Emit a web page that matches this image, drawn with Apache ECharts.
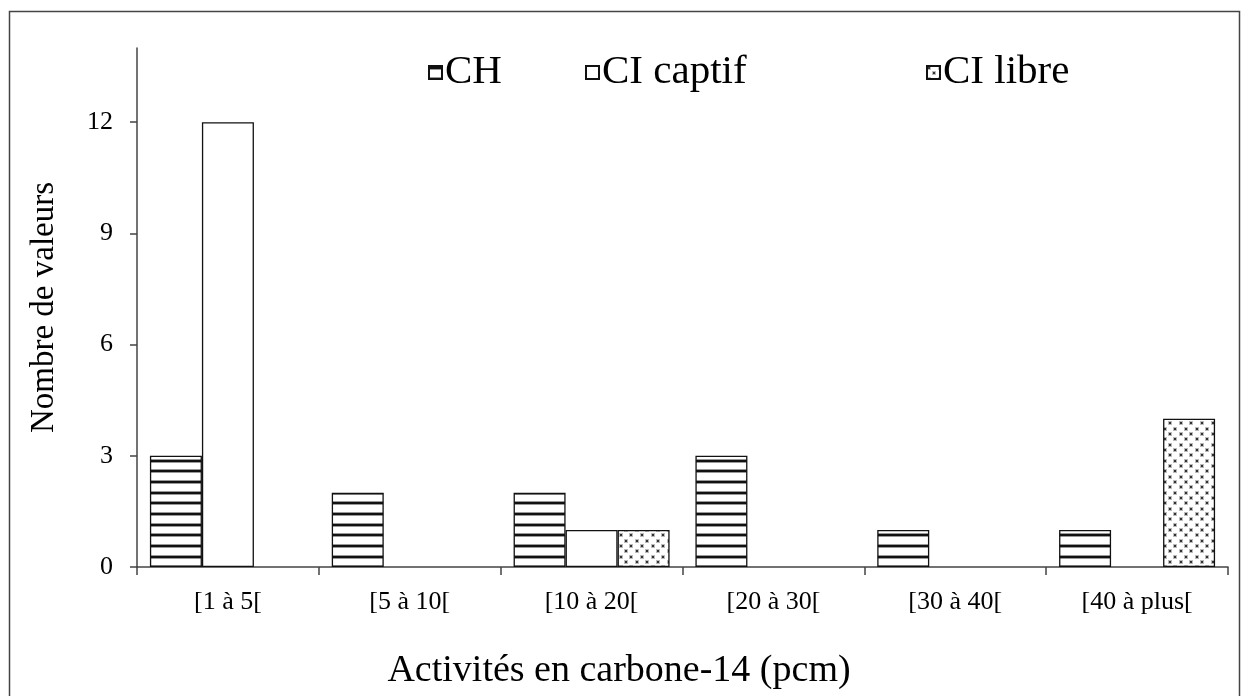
<!DOCTYPE html>
<html>
<head>
<meta charset="utf-8">
<script src="https://cdn.jsdelivr.net/npm/echarts@6/dist/echarts.min.js"></script>
<style>
html,body{margin:0;padding:0;background:#fff;}
#chart{width:1250px;height:696px;}
</style>
</head>
<body>
<div id="chart"></div>
<script>
// ---- data ----
const categories = ['[1 à 5[', '[5 à 10[', '[10 à 20[', '[20 à 30[', '[30 à 40[', '[40 à plus['];
const seriesNames = ['CH', 'CI captif', 'CI libre'];
const valuesCH = [3, 2, 2, 3, 1, 1];
const valuesCIcaptif = [12, 0, 1, 0, 0, 0];
const valuesCIlibre = [0, 0, 1, 0, 0, 4];
const yTicks = [0, 3, 6, 9, 12];
const yMax = 14;
const xTitle = 'Activités en carbone-14 (pcm)';
const yTitle = 'Nombre de valeurs';

// ---- patterns ----
function stripePattern() {
  const c = document.createElement('canvas');
  c.width = 32; c.height = 32;
  const g = c.getContext('2d');
  g.fillStyle = '#fff'; g.fillRect(0, 0, 32, 32);
  [0, 11, 21].forEach(y => {
    g.fillStyle = '#999'; g.fillRect(0, y, 32, 4);
    g.fillStyle = '#111'; g.fillRect(0, y + 1, 32, 2);
  });
  return c;
}
function dotPattern() {
  const c = document.createElement('canvas');
  c.width = 32; c.height = 32;
  const g = c.getContext('2d');
  g.fillStyle = '#fff'; g.fillRect(0, 0, 32, 32);
  const pos = [0, 11, 21];
  const off = [5, 16, 27];
  function dot(x, y) {
    g.fillStyle = '#bbb'; g.fillRect(x - 1, y - 1, 4, 4);
    g.fillStyle = '#333'; g.fillRect(x, y, 2, 2);
  }
  pos.forEach(y => pos.forEach(x => dot(x + 1, y + 1)));
  off.forEach(y => off.forEach(x => dot(x + 1, y + 1)));
  return c;
}
const fills = [
  { image: stripePattern(), repeat: 'repeat' },
  '#ffffff',
  { image: dotPattern(), repeat: 'repeat' }
];
const seriesValues = [valuesCH, valuesCIcaptif, valuesCIlibre];

const FONT = '"Liberation Serif", "Times New Roman", serif';
const chart = echarts.init(document.getElementById('chart'), null, { renderer: 'canvas' });

const legendLefts = [423, 580, 921];
const option = {
  animation: false,
  backgroundColor: '#fff',
  grid: { left: 137, right: 22, top: 48, bottom: 129, containLabel: false },
  legend: seriesNames.map((n, i) => ({
    data: [{ name: n, icon: 'rect' }],
    left: legendLefts[i],
    top: 47,
    itemWidth: 13,
    itemHeight: 13,
    itemGap: 0,
    textStyle: { fontFamily: FONT, fontSize: 41, color: '#000', padding: [0, 0, 0, -2] },
    selectedMode: false
  })),
  xAxis: {
    type: 'category',
    data: categories,
    axisLine: { lineStyle: { color: '#444', width: 1.5 } },
    axisTick: { show: true, length: 8, lineStyle: { color: '#444', width: 1.5 } },
    axisLabel: { fontFamily: FONT, fontSize: 26, color: '#000', margin: 22 },
    splitLine: { show: false }
  },
  yAxis: {
    type: 'value',
    min: 0,
    max: yMax,
    interval: 3,
    name: yTitle,
    nameLocation: 'middle',
    nameGap: 76,
    nameRotate: 90,
    nameTextStyle: { fontFamily: FONT, fontSize: 33, color: '#000' },
    axisLine: { show: true, lineStyle: { color: '#444', width: 1.5 } },
    axisTick: { show: true, length: 7, inside: false, customValues: yTicks, lineStyle: { color: '#444', width: 1.5 } },
    axisLabel: { fontFamily: FONT, fontSize: 26, color: '#000', margin: 24, customValues: yTicks },
    splitLine: { show: false }
  },
  graphic: [
    {
      type: 'rect',
      shape: { x: 9.5, y: 11.5, width: 1230, height: 700 },
      style: { fill: 'none', stroke: '#444', lineWidth: 1.5 },
      silent: true, z: -1
    },
    {
      type: 'text',
      x: 619, y: 671,
      style: {
        text: xTitle, fontFamily: FONT, fontSize: 38, fill: '#000',
        textAlign: 'center', textVerticalAlign: 'middle'
      }
    }
  ],
  series: seriesNames.map((n, i) => ({
    name: n,
    type: 'bar',
    barWidth: 52,
    barGap: '0%',
    data: seriesValues[i].map(v => (v === 0 ? null : v)),
    itemStyle: { color: fills[i], borderColor: '#111', borderWidth: 1.3 }
  }))
};
chart.setOption(option);
</script>
</body>
</html>
